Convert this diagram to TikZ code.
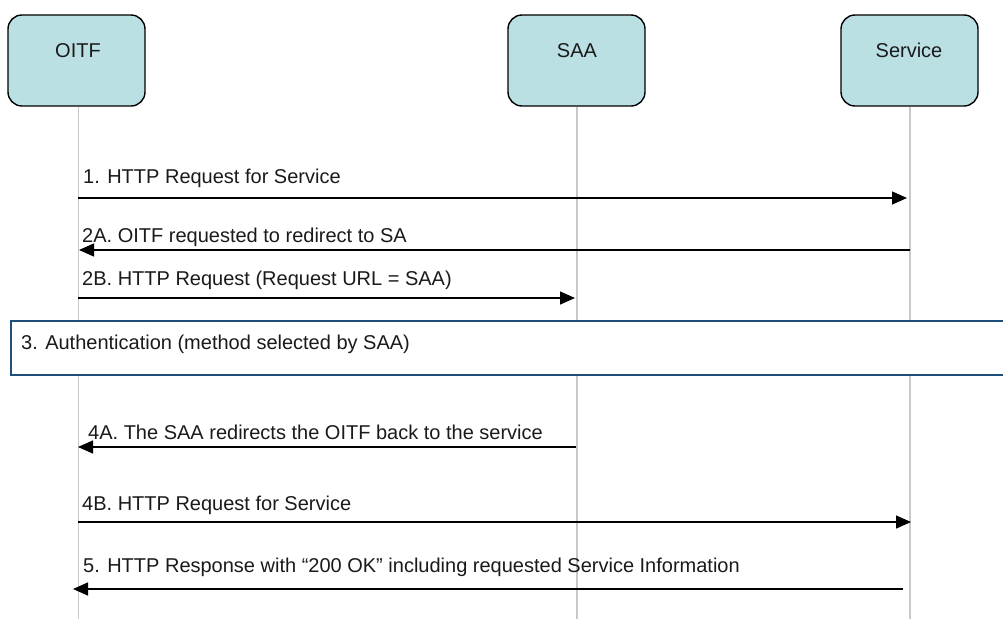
\documentclass[tikz,border=0pt]{standalone}
\usepackage{fontspec}
\setmainfont{Liberation Sans}
\usetikzlibrary{arrows.meta}
\definecolor{actfill}{HTML}{BBE0E3}
\definecolor{lifec}{HTML}{C8C8C8}
\definecolor{authc}{HTML}{1F4E79}
\definecolor{txt}{HTML}{1A1A1A}
\tikzset{
  actor/.style={draw=black, line width=1.4pt, fill=actfill, rounded corners=14pt,
    minimum width=137pt, minimum height=91pt, inner sep=0pt},
  actlabel/.style={font=\fontsize{20}{24}\selectfont, text=txt, inner sep=0pt, anchor=base},
  lifeline/.style={draw=lifec, line width=1.6pt},
  msg/.style={line width=1.4pt, -{Triangle[length=15pt,width=13pt]}},
  msglabel/.style={font=\fontsize{20}{24}\selectfont, text=txt, inner sep=0pt, anchor=base west},
  authbox/.style={draw=authc, line width=1.6pt, fill=white, minimum width=1000pt,
    minimum height=54pt, inner sep=0pt, anchor=west},
}
\begin{document}
\begin{tikzpicture}[x=1pt,y=-1pt]
\useasboundingbox (0,0) rectangle (1003,619);
\clip (0,0) rectangle (1003,619);
% actors
\node[actor] (oitf) at (76.5,60.5) {};
\node[actor] (saa) at (576.5,60.5) {};
\node[actor] (svc) at (909.5,60.5) {};
\node[actlabel] (oitfl) at (78,57) {OITF};
\node[actlabel] (saal) at (577,57) {SAA};
\node[actlabel] (svcl) at (909,57) {Service};
% lifeline ends
\coordinate (oitfb) at (78.5,619);
\coordinate (saab) at (577,619);
\coordinate (svcb) at (910,619);
\draw[lifeline] (oitf.south -| oitfb) -- (oitfb);
\draw[lifeline] (saa.south -| saab) -- (saab);
\draw[lifeline] (svc.south -| svcb) -- (svcb);
% message end points
\coordinate (m1s) at (78,198);   \coordinate (m1e) at (907,198);
\coordinate (m2as) at (910,250); \coordinate (m2ae) at (79,250);
\coordinate (m2bs) at (78,298);  \coordinate (m2be) at (575,298);
\coordinate (m4as) at (576,447); \coordinate (m4ae) at (78,447);
\coordinate (m4bs) at (78,522);  \coordinate (m4be) at (911,522);
\coordinate (m5s) at (903,589);  \coordinate (m5e) at (73,589);
% messages
\draw[msg] (m1s) -- (m1e);
\draw[msg] (m2as) -- (m2ae);
\draw[msg] (m2bs) -- (m2be);
\draw[msg] (m4as) -- (m4ae);
\draw[msg] (m4bs) -- (m4be);
\draw[msg] (m5s) -- (m5e);
% labels
\node[msglabel] (l1) at (83,183) {1. HTTP Request for Service};
\node[msglabel] (l2a) at (82,242) {2A. OITF requested to redirect to SA};
\node[msglabel] (l2b) at (82,285) {2B. HTTP Request (Request URL = SAA)};
\node[msglabel] (l4a) at (88,439) {4A. The SAA redirects the OITF back to the service};
\node[msglabel] (l4b) at (82,510) {4B. HTTP Request for Service};
\node[msglabel] (l5) at (83,572) {5. HTTP Response with “200 OK” including requested Service Information};
% authentication box
\node[authbox] (auth) at (10,348) {};
\node[msglabel] (authl) at (21,349) {3. Authentication (method selected by SAA)};
\end{tikzpicture}
\end{document}
